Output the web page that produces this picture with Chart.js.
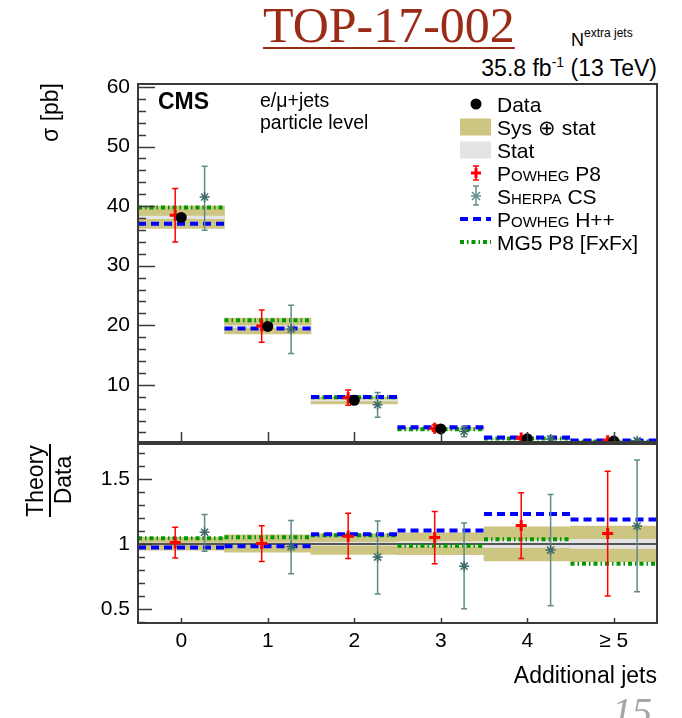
<!DOCTYPE html>
<html>
<head>
<meta charset="utf-8">
<script src="https://cdn.jsdelivr.net/npm/chart.js@4.4.1/dist/chart.umd.min.js"></script>
<style>
  body { margin: 0; background: #fff; width: 682px; height: 718px; overflow: hidden; position: relative;
         font-family: 'Liberation Sans', Arial, sans-serif; color: #000; }
  .t { position: absolute; white-space: nowrap; line-height: 1; }
  .c { transform: translateY(-50%); }
  canvas { position: absolute; left: 0; }
  .sc { font-variant: small-caps; }
</style>
</head>
<body>
<div class="t" style="left:263px; top:-4px; font:50px 'Liberation Serif', serif; color:#9b2b17; text-decoration:underline; text-decoration-thickness:2px; text-underline-offset:5px;">TOP-17-002</div>
<div class="t c" style="left:571px; top:40px; font-size:18px;">N<span style="font-size:12px; position:relative; top:-9px;">extra jets</span></div>
<div class="t c" style="right:25px; top:68px; font-size:23px;">35.8 fb<span style="font-size:14px; position:relative; top:-9px;">-1</span> (13 TeV)</div>

<canvas id="xsecChart" width="682" height="388" style="top:70px"></canvas>
<canvas id="ratioChart" width="682" height="253" style="top:430px"></canvas>

<div class="t c" style="left:158px; top:101px; font-size:23px; font-weight:bold;">CMS</div>
<div class="t c" style="left:260px; top:101px; font-size:19.5px;">e/μ+jets</div>
<div class="t c" style="left:260px; top:123px; font-size:19.5px;">particle level</div>

<div class="t" style="left:50px; top:83px; font-size:23px; transform-origin:0 0; transform:rotate(-90deg) translate(-100%,-50%);">σ [pb]</div>
<div class="t" style="left:35px; top:481px; font-size:23px; transform-origin:0 0; transform:rotate(-90deg) translate(-50%,-50%);">Theory</div>
<div style="position:absolute; left:49px; top:444px; width:2px; height:73px; background:#000;"></div>
<div class="t" style="left:63px; top:480px; font-size:23px; transform-origin:0 0; transform:rotate(-90deg) translate(-50%,-50%);">Data</div>
<div class="t c" style="right:25px; top:675px; font-size:23px;">Additional jets</div>

<svg style="position:absolute; left:455px; top:90px;" width="45" height="165">
  <circle cx="21" cy="14" r="5.5" fill="#000"/>
  <rect x="5" y="28.5" width="31" height="17" fill="#cdc682"/>
  <rect x="5" y="51.5" width="31" height="17" fill="#e4e4e4"/>
  <g stroke="#ff0000" stroke-width="1.5">
    <line x1="21" y1="76" x2="21" y2="90"/><line x1="18" y1="76" x2="24" y2="76"/><line x1="18" y1="90" x2="24" y2="90"/>
  </g>
  <g stroke="#ff0000" stroke-width="3"><line x1="16" y1="83" x2="26" y2="83"/><line x1="21" y1="78" x2="21" y2="88"/></g>
  <g stroke="#5f8c8a" stroke-width="1.5">
    <line x1="21" y1="96" x2="21" y2="115"/><line x1="18" y1="96" x2="24" y2="96"/><line x1="18" y1="115" x2="24" y2="115"/>
    <line x1="16" y1="106" x2="26" y2="106"/><line x1="17" y1="102" x2="25" y2="110"/><line x1="17" y1="110" x2="25" y2="102"/>
  </g>
  <line x1="5" y1="129" x2="36" y2="129" stroke="#0000ff" stroke-width="4" stroke-dasharray="8,5"/>
  <line x1="5" y1="152" x2="36" y2="152" stroke="#009900" stroke-width="4" stroke-dasharray="4,3,1.5,3"/>
</svg>
<div class="t c" style="left:497px; top:104px; font-size:21px;">Data</div>
<div class="t c" style="left:497px; top:127px; font-size:21px;">Sys ⊕ stat</div>
<div class="t c" style="left:497px; top:150px; font-size:21px;">Stat</div>
<div class="t c" style="left:497px; top:173px; font-size:21px;"><span class="sc">Powheg</span> P8</div>
<div class="t c" style="left:497px; top:196px; font-size:21px;"><span class="sc">Sherpa</span> CS</div>
<div class="t c" style="left:497px; top:219px; font-size:21px;"><span class="sc">Powheg</span> H++</div>
<div class="t c" style="left:497px; top:242px; font-size:21px;">MG5 P8 [FxFx]</div>

<div class="t" style="left:612px; top:688px; font:italic 40px 'Liberation Serif', serif; color:#a5a5a5;">15</div>

<script>
  // measured cross section per bin (pb)
  const categories = ['0', '1', '2', '3', '4', '≥ 5'];
  const dataXsec = [38.1, 19.8, 7.4, 2.6, 0.95, 0.55];

  // uncertainties and predictions as theory/data ratios
  const sysUp = [1.050, 1.070, 1.077, 1.085, 1.131, 1.138];
  const sysDown = [0.952, 0.936, 0.918, 0.916, 0.869, 0.862];
  const statUp = [1.006, 1.008, 1.012, 1.017, 1.030, 1.035];
  const statDown = [0.994, 0.992, 0.988, 0.983, 0.970, 0.965];
  const powhegP8 = [1.010, 1.003, 1.059, 1.049, 1.141, 1.080];
  const powhegP8Up = [1.128, 1.140, 1.236, 1.249, 1.395, 1.560];
  const powhegP8Down = [0.892, 0.865, 0.888, 0.846, 0.888, 0.598];
  const sherpaCS = [1.090, 0.977, 0.898, 0.828, 0.952, 1.138];
  const sherpaCSUp = [1.226, 1.180, 1.177, 1.160, 1.380, 1.646];
  const sherpaCSDown = [0.944, 0.770, 0.613, 0.500, 0.523, 0.630];
  const powhegHpp = [0.972, 0.982, 1.075, 1.103, 1.231, 1.188];
  const mg5FxFx = [1.044, 1.052, 1.067, 0.985, 1.036, 0.846];

  const xsecTicks = [10, 20, 30, 40, 50, 60];
  const ratioTicks = [0.5, 1, 1.5];

  const KHAKI = '#cdc682';
  const STAT = '#e4e4e4';
  const P8_SHIFT = -0.07, SHERPA_SHIFT = 0.27;

  Chart.defaults.font.family = "'Liberation Sans', Arial, sans-serif";
  Chart.defaults.color = '#000';

  const k = (norm, i) => norm ? norm[i] : 1;
  const band = (lo, hi, norm) => lo.map((v, i) => ({ x: i, y: [v * k(norm, i), hi[i] * k(norm, i)] }));
  const pts = (vals, shift, norm) => vals.map((v, i) => ({ x: i + shift, y: v * k(norm, i) }));
  const scaled = (vals, norm) => vals.map((v, i) => v * k(norm, i));
  function steps(vals, norm) {
    const out = [];
    vals.forEach((v, i) => {
      out.push({ x: i - 0.5, y: v * k(norm, i) }, { x: i + 0.5, y: v * k(norm, i) }, { x: i + 0.5, y: null });
    });
    return out;
  }

  function buildDatasets(norm) {
    const ds = [
      { type: 'bar', data: band(sysDown, sysUp, norm), backgroundColor: KHAKI, grouped: false,
        barPercentage: 1, categoryPercentage: 1, borderWidth: 0, order: 9 },
      { type: 'bar', data: band(statDown, statUp, norm), backgroundColor: STAT, grouped: false,
        barPercentage: 1, categoryPercentage: 1, borderWidth: 0, order: 8 },
      { type: 'line', data: steps(mg5FxFx, norm), borderColor: '#009900', borderWidth: 4,
        borderDash: [4, 3, 1.5, 3], pointRadius: 0, spanGaps: false, order: 6 },
      { type: 'line', data: steps(powhegHpp, norm), borderColor: '#0000ff', borderWidth: 4,
        borderDash: [8, 5], pointRadius: 0, spanGaps: false, order: 5 },
      { type: 'line', showLine: false, data: pts(sherpaCS, SHERPA_SHIFT, norm),
        errHi: scaled(sherpaCSUp, norm), errLo: scaled(sherpaCSDown, norm), errColor: '#5f8c8a',
        pointStyle: 'star', pointRadius: 5, borderColor: '#3d6b6a', borderWidth: 1.5, order: 3 },
      { type: 'line', showLine: false, data: pts(powhegP8, P8_SHIFT, norm),
        errHi: scaled(powhegP8Up, norm), errLo: scaled(powhegP8Down, norm), errColor: '#ff0000',
        pointStyle: 'cross', pointRadius: 5.5, borderColor: '#ff0000', borderWidth: 3, order: 2 }
    ];
    if (norm) {
      ds.push({ type: 'line', showLine: false, data: pts(dataXsec, 0), pointStyle: 'circle',
        pointRadius: 5.5, backgroundColor: '#000', borderColor: '#000', borderWidth: 0, order: 0 });
    } else {
      ds.push({ type: 'line', data: [{ x: -0.5, y: 1 }, { x: categories.length - 0.5, y: 1 }],
        borderColor: '#555', borderWidth: 2, pointRadius: 0, order: 7 });
    }
    return ds;
  }

  const errorBars = {
    id: 'errorBars',
    beforeDatasetDraw(chart, args) {
      const ds = chart.data.datasets[args.index];
      if (!ds.errHi) return;
      const y = chart.scales.y, ctx = chart.ctx;
      ctx.save();
      ctx.strokeStyle = ds.errColor;
      ctx.lineWidth = 1.5;
      args.meta.data.forEach((p, i) => {
        const top = y.getPixelForValue(ds.errHi[i]), bot = y.getPixelForValue(ds.errLo[i]);
        ctx.beginPath();
        ctx.moveTo(p.x, top); ctx.lineTo(p.x, bot);
        ctx.moveTo(p.x - 3, top); ctx.lineTo(p.x + 3, top);
        ctx.moveTo(p.x - 3, bot); ctx.lineTo(p.x + 3, bot);
        ctx.stroke();
      });
      ctx.restore();
    }
  };

  // ROOT style frame with inward ticks
  const frame = {
    id: 'frame',
    afterDraw(chart, args, o) {
      const { ctx, chartArea: a, scales: { x, y } } = chart;
      ctx.save();
      ctx.strokeStyle = '#3a3a3a';
      ctx.lineWidth = 1.5;
      ctx.beginPath();
      const n0 = Math.ceil(y.min / o.minor - 1e-9), n1 = Math.floor(y.max / o.minor + 1e-9);
      for (let n = n0; n <= n1; n++) {
        const v = n * o.minor;
        const isMajor = Math.abs(v / o.major - Math.round(v / o.major)) < 1e-6;
        const py = Math.round(y.getPixelForValue(v)) + 0.5;
        ctx.moveTo(a.left, py);
        ctx.lineTo(a.left + (isMajor ? o.majorLen : o.minorLen), py);
      }
      categories.forEach((c, i) => {
        const px = Math.round(x.getPixelForValue(i)) + 0.5;
        ctx.moveTo(px, a.bottom);
        ctx.lineTo(px, a.bottom - o.xLen);
      });
      ctx.stroke();
      ctx.lineWidth = 2;
      ctx.strokeRect(a.left, a.top, a.right - a.left, a.bottom - a.top);
      ctx.restore();
    }
  };

  function makeChart(id, norm, yMin, yMax, yTicks, frameOpts, showX, pad) {
    return new Chart(document.getElementById(id), {
      type: 'line',
      data: { datasets: buildDatasets(norm) },
      plugins: [errorBars, frame],
      options: {
        responsive: false,
        animation: false,
        devicePixelRatio: 1,
        layout: { padding: pad },
        plugins: { legend: { display: false }, tooltip: { enabled: false }, frame: frameOpts },
        scales: {
          x: {
            type: 'linear', min: -0.5, max: categories.length - 0.5, offset: false, display: showX,
            afterBuildTicks: s => { s.ticks = categories.map((c, i) => ({ value: i })); },
            afterFit: s => { s.height = showX ? 40 : 0; s.paddingLeft = 0; s.paddingRight = 0; },
            grid: { display: false, drawTicks: false }, border: { display: false },
            ticks: { padding: 6, autoSkip: false, maxRotation: 0, font: { size: 21 },
                     callback: v => categories[v] }
          },
          y: {
            type: 'linear', min: yMin, max: yMax,
            afterBuildTicks: s => { s.ticks = yTicks.map(v => ({ value: v })); },
            afterFit: s => { s.width = 138; s.paddingTop = 0; s.paddingBottom = 0; },
            grid: { display: false, drawTicks: false }, border: { display: false },
            ticks: { padding: 8, font: { size: 21 }, callback: v => String(v) }
          }
        }
      }
    });
  }

  makeChart('xsecChart', dataXsec, 0.4, 60.5, xsecTicks,
    { major: 10, minor: 2, majorLen: 17, minorLen: 8, xLen: 10 }, false,
    { top: 14, right: 25, bottom: 16, left: 0 });
  makeChart('ratioChart', null, 0.39, 1.77, ratioTicks,
    { major: 0.5, minor: 0.1, majorLen: 14, minorLen: 7, xLen: 5 }, true,
    { top: 14, right: 25, bottom: 20, left: 0 });
</script>
</body>
</html>
